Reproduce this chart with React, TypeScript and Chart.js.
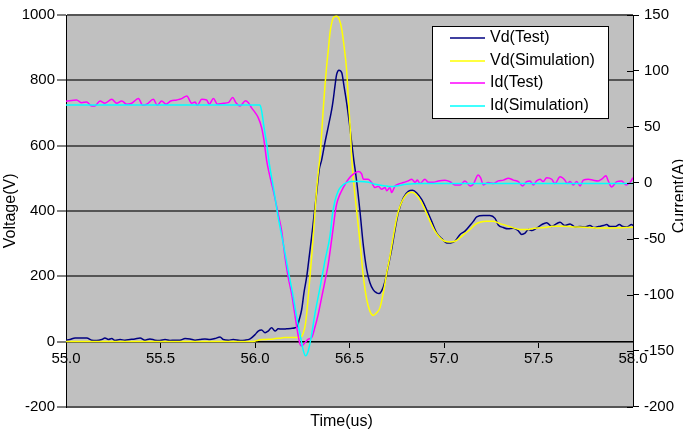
import { useEffect, useRef } from 'react';
import { Chart, registerables } from 'chart.js';

Chart.register(...registerables);

// ---- data (time in us, voltage in V, current in A) ----
const vdTestTime = [
  55.0, 55.021, 55.048, 55.11, 55.136, 55.162, 55.189, 55.206, 55.224, 55.242, 55.259, 55.286, 55.312, 55.339,
  55.365, 55.392, 55.418, 55.444, 55.471, 55.497, 55.524, 55.55, 55.577, 55.603, 55.63, 55.656, 55.683, 55.709,
  55.735, 55.762, 55.788, 55.815, 55.832, 55.859, 55.885, 55.921, 55.947, 55.974, 56.0, 56.017, 56.035, 56.053,
  56.07, 56.088, 56.106, 56.123, 56.143, 56.168, 56.19, 56.212, 56.224, 56.234, 56.247, 56.259, 56.274, 56.287,
  56.3, 56.312, 56.326, 56.34, 56.353, 56.37, 56.388, 56.406, 56.414, 56.423, 56.432, 56.444, 56.459, 56.471,
  56.485, 56.499, 56.52, 56.538, 56.556, 56.573, 56.591, 56.608, 56.626, 56.644, 56.656, 56.67, 56.688, 56.705,
  56.723, 56.741, 56.758, 56.785, 56.811, 56.834, 56.856, 56.882, 56.908, 56.935, 56.961, 56.988, 57.014, 57.035,
  57.058, 57.085, 57.111, 57.138, 57.155, 57.173, 57.208, 57.243, 57.27, 57.287, 57.314, 57.339, 57.367, 57.393,
  57.411, 57.429, 57.446, 57.466, 57.49, 57.517, 57.543, 57.57, 57.596, 57.614, 57.64, 57.667, 57.693, 57.72,
  57.746, 57.772, 57.794, 57.817, 57.843, 57.861, 57.878, 57.905, 57.928, 57.946, 57.967, 57.993, 58.0,
];
const vdTestVolts = [
  4, 6, 11, 11, 4, 3, 6, 11, 6, 9, 3, 6, 4, 6,
  8, 11, 4, 8, 4, 3, 6, 3, 4, 4, 9, 8, 4, 6,
  8, 6, 9, 14, 6, 4, 6, 3, 4, 8, 21, 32, 35, 27,
  32, 42, 32, 39, 38, 39, 40, 42, 47, 67, 98, 149, 200, 261,
  322, 384, 455, 527, 557, 609, 659, 711, 741, 782, 818, 831, 823, 782,
  731, 670, 568, 490, 395, 295, 220, 180, 158, 149, 147, 155, 185, 231,
  282, 343, 394, 440, 460, 463, 455, 435, 404, 368, 333, 315, 302, 302,
  307, 328, 338, 356, 368, 382, 386, 386, 377, 357, 349, 345, 347, 339,
  328, 332, 343, 340, 347, 358, 364, 352, 361, 365, 355, 360, 351, 352,
  351, 355, 349, 352, 355, 358, 352, 352, 358, 352, 351, 358, 355,
];

const vdSimTime = [
  55.0, 55.974, 56.0, 56.017, 56.044, 56.097, 56.141, 56.159, 56.212, 56.247, 56.256, 56.265, 56.274, 56.282,
  56.291, 56.3, 56.308, 56.317, 56.326, 56.335, 56.344, 56.353, 56.361, 56.37, 56.379, 56.388, 56.397, 56.406,
  56.418, 56.432, 56.446, 56.459, 56.471, 56.485, 56.494, 56.503, 56.512, 56.525, 56.538, 56.556, 56.573, 56.591,
  56.608, 56.626, 56.644, 56.661, 56.679, 56.697, 56.714, 56.732, 56.75, 56.767, 56.788, 56.811, 56.829, 56.852,
  56.877, 56.899, 56.926, 56.952, 56.979, 57.005, 57.032, 57.058, 57.085, 57.111, 57.138, 57.164, 57.19, 57.226,
  57.261, 57.296, 57.332, 57.367, 57.402, 57.437, 57.472, 57.508, 57.543, 57.578, 57.631, 57.684, 57.737, 57.808,
  57.878, 58.0,
];
const vdSimVolts = [
  0, 0, 1, 4, 6, 8, 11, 12, 12, 16, 27, 47, 88, 139,
  200, 261, 322, 394, 466, 520, 568, 639, 711, 782, 843, 894, 946, 976,
  994, 996, 986, 956, 905, 830, 740, 660, 560, 470, 400, 302, 200, 129,
  93, 80, 88, 103, 149, 210, 261, 322, 379, 414, 440, 455, 457, 450,
  430, 404, 368, 338, 318, 307, 305, 307, 318, 331, 343, 358, 365, 368,
  368, 361, 355, 348, 343, 343, 346, 348, 350, 353, 353, 351, 350, 348,
  348, 350,
];

const idTestTime = [
  55.0, 55.056, 55.083, 55.109, 55.136, 55.153, 55.18, 55.206, 55.242, 55.268, 55.295, 55.321, 55.348, 55.383,
  55.406, 55.427, 55.462, 55.483, 55.506, 55.529, 55.554, 55.586, 55.612, 55.639, 55.665, 55.683, 55.695, 55.718,
  55.744, 55.758, 55.78, 55.801, 55.832, 55.859, 55.882, 55.899, 55.921, 55.95, 55.965, 55.982, 56.0, 56.017,
  56.035, 56.048, 56.062, 56.076, 56.097, 56.123, 56.141, 56.159, 56.176, 56.194, 56.208, 56.224, 56.238, 56.247,
  56.265, 56.282, 56.3, 56.317, 56.335, 56.353, 56.37, 56.388, 56.406, 56.414, 56.423, 56.432, 56.45, 56.467,
  56.494, 56.52, 56.547, 56.565, 56.573, 56.599, 56.617, 56.635, 56.652, 56.67, 56.688, 56.697, 56.714, 56.723,
  56.741, 56.758, 56.785, 56.811, 56.829, 56.847, 56.859, 56.873, 56.899, 56.917, 56.943, 56.97, 57.005, 57.032,
  57.058, 57.085, 57.111, 57.138, 57.155, 57.181, 57.194, 57.208, 57.234, 57.261, 57.287, 57.314, 57.34, 57.367,
  57.393, 57.416, 57.437, 57.455, 57.472, 57.49, 57.508, 57.525, 57.543, 57.57, 57.587, 57.614, 57.64, 57.652,
  57.667, 57.684, 57.702, 57.72, 57.737, 57.764, 57.79, 57.817, 57.834, 57.857, 57.869, 57.887, 57.914, 57.94,
  57.963, 57.984, 58.0,
];
const idTestAmps = [
  73, 74.1, 71.7, 72.3, 68.8, 68.8, 73.2, 71.2, 74.7, 71.2, 73.2, 70.3, 71.2, 75.3,
  69.4, 70.3, 74.7, 69.4, 73.2, 70.3, 73.2, 74.1, 75.3, 77.7, 71.2, 72.3, 69.4, 74.7,
  74.1, 70.3, 75.3, 70.3, 71.2, 71.7, 76.2, 71.7, 68.8, 73.5, 71.7, 67, 63, 58.3,
  49.4, 37.5, 19.6, 7.8, -7.1, -28, -42.9, -66.7, -84.6, -99.4, -114.3, -132, -144, -145.6,
  -142.6, -139.6, -138, -129, -117, -102, -88, -72, -50, -40, -28, -19, -10, -4.2,
  3.3, 7.8, 10.1, 7.8, 3.3, 3.3, 0.3, -4.2, -3, -5.7, -4, -7.1, -4, -8.6,
  -2.7, -1.2, 0.3, 1.8, 3.3, 0.5, 2.5, -0.6, 3.3, 0.5, 0.5, 1.8, 2.4, 1,
  -1.8, -1.8, 1.8, -2.7, -1.2, 7.1, 4.5, -1.8, 0.3, -0.6, 1.8, 2.5, 4.2, 2.5,
  1.2, -2.7, 1.2, 1.8, -1.8, 1.8, 3.3, 1.2, 4.7, 3.3, -0.6, 5.4, 2.4, -0.6,
  1.2, -1.8, 1.2, -2.7, 2.4, 3.3, 2.4, 1.8, 3.3, 6.3, 1.8, -3.6, 1.2, 1.8,
  -1.8, 0.3, 4.7,
];

const idSimTime = [
  55.0, 56.026, 56.035, 56.048, 56.062, 56.076, 56.088, 56.106, 56.123, 56.15, 56.176, 56.203, 56.221, 56.238,
  56.256, 56.268, 56.282, 56.3, 56.317, 56.344, 56.37, 56.397, 56.41, 56.423, 56.441, 56.459, 56.485, 56.512,
  56.556, 56.6, 56.635, 56.688, 56.723, 56.75, 56.803, 56.873, 58.0,
];
const idSimAmps = [
  69.5, 69.5, 64.3, 49.4, 34.6, 16.7, 4.7, -13.1, -31, -54.7, -78.6, -102.4, -120.3, -135,
  -150, -154.5, -150, -135, -117, -93.5, -69.7, -47, -28, -16, -7, -2.7, 0.3, 1.2,
  1.2, 0.5, -1.2, -2.7, -3.3, -2.7, -1.2, -0.6, -0.6,
];

const timeTicks = { min: 55, max: 58, step: 0.5 };
const voltTicks = { min: -200, max: 1000, step: 200 };
const ampTicks = { min: -200, max: 150, step: 50 };

const seriesLabels = ['Vd(Test)', 'Vd(Simulation)', 'Id(Test)', 'Id(Simulation)'];
const seriesColors = ['#000080', '#FFFF00', '#FF00FF', '#00FFFF'];

const FONT = '"Liberation Sans", Arial, Helvetica, sans-serif';

function points(ts: number[], vs: number[]) {
  return ts.map((t, i) => ({ x: t, y: vs[i] }));
}

const plotBackground = {
  id: 'plotBackground',
  beforeDraw(chart: any) {
    const { ctx, chartArea: a } = chart;
    ctx.save();
    ctx.fillStyle = '#C0C0C0';
    ctx.fillRect(a.left, a.top, a.right - a.left, a.bottom - a.top);
    ctx.restore();
  },
};

const rightAxisExtras = {
  id: 'rightAxisExtras',
  afterDraw(chart: any) {
    const s = chart.scales.y1;
    const ctx = chart.ctx;
    ctx.save();
    ctx.strokeStyle = '#000';
    ctx.lineWidth = 1;
    s.ticks.forEach((_: any, i: number) => {
      const y = Math.round(s.getPixelForTick(i)) + 0.5;
      ctx.beginPath();
      ctx.moveTo(s.left - 6, y);
      ctx.lineTo(s.left, y);
      ctx.stroke();
    });
    ctx.font = `16px ${FONT}`;
    ctx.fillStyle = '#000';
    ctx.textAlign = 'center';
    ctx.textBaseline = 'middle';
    ctx.translate(s.right - 3, 196);
    ctx.rotate(-Math.PI / 2);
    ctx.fillText('Current(A)', 0, 0);
    ctx.restore();
  },
};

const boxLegend = {
  id: 'boxLegend',
  afterDraw(chart: any) {
    const ctx = chart.ctx;
    ctx.save();
    ctx.fillStyle = '#fff';
    ctx.fillRect(432.5, 26.5, 176, 92);
    ctx.strokeStyle = '#000';
    ctx.lineWidth = 1;
    ctx.strokeRect(432.5, 26.5, 176, 92);
    ctx.font = `16px ${FONT}`;
    ctx.textAlign = 'left';
    ctx.textBaseline = 'middle';
    chart.data.datasets.forEach((ds: any, i: number) => {
      const y = Math.round(38 + i * 22.7);
      ctx.strokeStyle = ds.borderColor;
      ctx.lineWidth = 1.5;
      ctx.beginPath();
      ctx.moveTo(450, y);
      ctx.lineTo(485, y);
      ctx.stroke();
      ctx.fillStyle = '#000';
      ctx.fillText(ds.label, 490, y);
    });
    ctx.restore();
  },
};

export default function App() {
  const ref = useRef<HTMLCanvasElement>(null);

  useEffect(() => {
    document.body.style.margin = '0';
    Chart.defaults.font.family = FONT;
    Chart.defaults.font.size = 15;
    Chart.defaults.color = '#000';

    const common = {
      borderWidth: 1.5,
      pointRadius: 0,
      fill: false,
      cubicInterpolationMode: 'monotone' as const,
    };

    const chart = new Chart(ref.current as HTMLCanvasElement, {
      type: 'line',
      data: {
        datasets: [
          { ...common, label: seriesLabels[0], data: points(vdTestTime, vdTestVolts), borderColor: seriesColors[0], yAxisID: 'y', order: 4 },
          { ...common, label: seriesLabels[1], data: points(vdSimTime, vdSimVolts), borderColor: seriesColors[1], yAxisID: 'y', order: 3 },
          { ...common, label: seriesLabels[2], data: points(idTestTime, idTestAmps), borderColor: seriesColors[2], yAxisID: 'y1', order: 2 },
          { ...common, label: seriesLabels[3], data: points(idSimTime, idSimAmps), borderColor: seriesColors[3], yAxisID: 'y1', order: 1 },
        ],
      },
      options: {
        responsive: false,
        animation: false,
        events: [],
        layout: { padding: { top: 15, left: 0, right: 0, bottom: 0 } },
        plugins: {
          legend: { display: false },
          tooltip: { enabled: false },
          title: {
            display: true,
            text: 'Time(us)',
            position: 'bottom',
            color: '#000',
            font: { size: 16, weight: 'normal' },
            padding: { top: 5, bottom: 2 },
          },
        },
        scales: {
          x: {
            type: 'linear',
            position: { y: 0 } as any,
            min: timeTicks.min,
            max: timeTicks.max,
            ticks: {
              stepSize: timeTicks.step,
              maxRotation: 0,
              autoSkip: false,
              padding: 2,
              callback: (v: any) => Number(v).toFixed(1),
            },
            grid: { drawOnChartArea: false, drawTicks: true, tickLength: 6, color: '#000' },
            border: { display: true, color: '#000', width: 1 },
          },
          y: {
            position: 'left',
            min: voltTicks.min,
            max: voltTicks.max,
            ticks: { stepSize: voltTicks.step, padding: 2, callback: (v: any) => String(v) },
            grid: { color: '#555555', lineWidth: 2, tickLength: 9, tickColor: '#000', tickWidth: 1 },
            border: { color: '#000', width: 1 },
            title: { display: true, text: 'Voltage(V)', font: { size: 16 }, padding: { top: 1, bottom: 1 } },
            afterFit: (s: any) => { s.width = 66; },
          },
          y1: {
            position: 'right',
            min: ampTicks.min,
            max: ampTicks.max,
            ticks: { stepSize: ampTicks.step, padding: 5, callback: (v: any) => String(v) },
            grid: { drawOnChartArea: false, tickLength: 6, color: '#000' },
            border: { color: '#000', width: 1 },
            afterFit: (s: any) => { s.width = 50; },
          },
        },
      },
      plugins: [plotBackground, rightAxisExtras, boxLegend],
    } as any);

    return () => chart.destroy();
  }, []);

  return (
    <div style={{ width: 683, height: 433, position: 'relative' }}>
      <canvas ref={ref} width={683} height={433} style={{ display: 'block', width: 683, height: 433 }} />
    </div>
  );
}
